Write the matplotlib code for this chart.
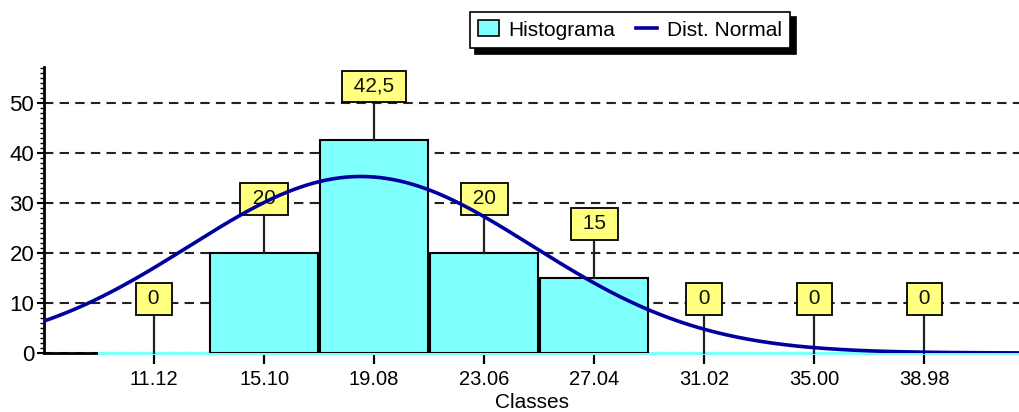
import matplotlib
matplotlib.use("Agg")
import matplotlib.pyplot as plt
from matplotlib.patches import Patch
from matplotlib.lines import Line2D
from matplotlib.ticker import MultipleLocator
import numpy as np

plt.rcParams['font.family'] = ['Liberation Sans', 'DejaVu Sans']

classes = [11.12, 15.10, 19.08, 23.06, 27.04, 31.02, 35.00, 38.98]
tick_labels = ["11.12", "15.10", "19.08", "23.06", "27.04", "31.02", "35.00", "38.98"]
freq = [0, 20, 42.5, 20, 15, 0, 0, 0]
# estimated parameters of the "Dist. Normal" curve
norm_mean = 18.6
norm_sd = 6.2
norm_peak = 35.3

step = classes[1] - classes[0]
bar_width = 3.9
cyan = '#80FFFF'
yellow = '#FFFF80'
blue = '#0000A0'

fig = plt.figure(figsize=(10.19, 4.12), dpi=100)
ax = fig.add_axes([0.0432, 0.1432, 0.9568, 0.6942])
ax.set_xlim(7.14, 42.4)
ax.set_ylim(0, 57.2)

ax.yaxis.grid(True, which='major', linestyle=(0, (4.5, 3)), color='#222222', linewidth=1.5, zorder=0)
ax.set_axisbelow(True)

for s in ['top', 'right']:
    ax.spines[s].set_visible(False)
ax.spines['left'].set_linewidth(2)
ax.spines['bottom'].set_linewidth(2)

# zero-height bars shown as cyan baseline
ax.plot([classes[0] - step / 2, ax.get_xlim()[1]], [0, 0], color=cyan, lw=2.2, zorder=3, clip_on=False)

nz = [(c, f) for c, f in zip(classes, freq) if f > 0]
ax.bar([c for c, f in nz], [f for c, f in nz], width=bar_width, color=cyan,
       edgecolor='black', linewidth=1.5, zorder=4)

offset = 10.8
for c, f in zip(classes, freq):
    txt = ' ' + ('%g' % f).replace('.', ',') + ' '
    ax.plot([c, c], [f, f + offset], color='#222222', lw=1.6, zorder=5, clip_on=False)
    ax.text(c, f + offset, txt, ha='center', va='center', fontsize=15, zorder=6, color='#111111',
            bbox=dict(boxstyle='square,pad=0.3', facecolor=yellow, edgecolor='black', linewidth=1.3))

xs = np.linspace(ax.get_xlim()[0], ax.get_xlim()[1], 600)
ys = norm_peak * np.exp(-((xs - norm_mean) ** 2) / (2 * norm_sd ** 2))
ax.plot(xs, ys, color=blue, lw=2.6, zorder=7)

ax.set_xticks(classes)
ax.set_xticklabels(tick_labels)
ax.set_yticks([0, 10, 20, 30, 40, 50])
ax.yaxis.set_minor_locator(MultipleLocator(1))
ax.tick_params(axis='y', which='major', direction='out', length=5, width=1.5, labelsize=16, pad=2)
ax.tick_params(axis='y', which='minor', direction='out', length=3, width=1)
ax.tick_params(axis='x', which='major', direction='out', length=8, width=1.6, labelsize=14.5, pad=4)
ax.set_xlabel('Classes', fontsize=15, labelpad=3)

handles = [Patch(facecolor=cyan, edgecolor='black', linewidth=1.2, label='Histograma'),
           Line2D([0], [0], color=blue, lw=2.6, label='Dist. Normal')]
leg = fig.legend(handles=handles, loc='center', bbox_to_anchor=(630 / 1019, 1 - 30 / 412),
                 ncol=2, fontsize=15, frameon=True, fancybox=False,
                 shadow={'ox': 4, 'oy': -4, 'color': 'black', 'alpha': 1},
                 edgecolor='black', handlelength=1.0, handleheight=0.8, handletextpad=0.45,
                 columnspacing=1.0, borderpad=0.42)
leg.get_frame().set_linewidth(1.2)

fig.savefig('out.png', dpi=100)
